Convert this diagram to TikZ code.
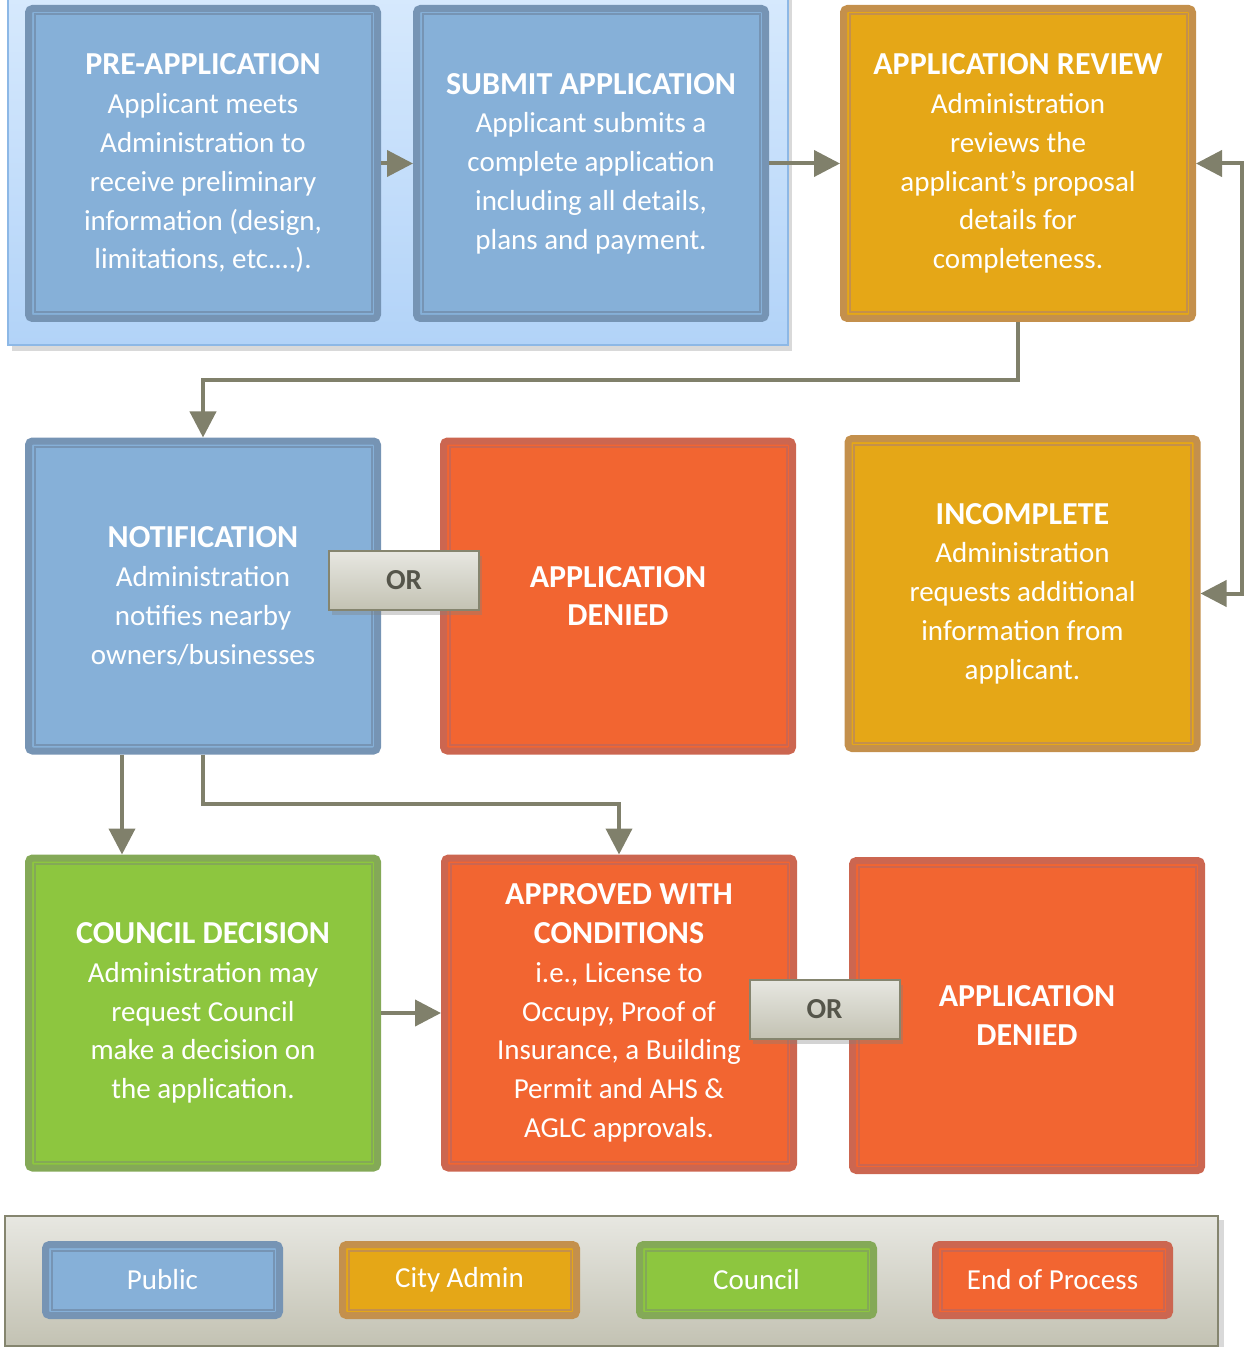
\documentclass[tikz,border=0pt]{standalone}
\usepackage{fontspec}
\setmainfont{Carlito}
\usetikzlibrary{arrows.meta, shadows}
\definecolor{pubfill}{HTML}{86B0D8}
\definecolor{publine}{HTML}{7694B4}
\definecolor{admfill}{HTML}{E5A717}
\definecolor{admline}{HTML}{C4904C}
\definecolor{endfill}{HTML}{F26531}
\definecolor{endline}{HTML}{CC6650}
\definecolor{cncfill}{HTML}{8DC63F}
\definecolor{cncline}{HTML}{84A957}
\definecolor{arrowgray}{HTML}{80806B}
\definecolor{ortext}{HTML}{55554A}
\definecolor{grayline}{HTML}{85856F}
\definecolor{grayhi}{HTML}{E7E7E1}
\definecolor{graylo}{HTML}{C3C2B3}
\definecolor{panelhi}{HTML}{D8EAFD}
\definecolor{panello}{HTML}{B2D3F8}
\definecolor{panelline}{HTML}{8DB8E6}
\newcommand{\hd}[1]{{\fontsize{16}{19.4}\selectfont\bfseries #1}}

\begin{document}
\begin{tikzpicture}[x=0.5pt, y=-0.5pt,
  stage/.style 2 args={rectangle, rounded corners=2pt, fill=#1, draw=#2, line width=3.5pt,
    minimum width=174.5pt, minimum height=155pt, inner sep=2pt, align=center, text=white,
    font=\fontsize{14.5}{19.4}\selectfont,
    path picture={\draw[#2, line width=1pt, sharp corners]
      ([shift={(3pt,3pt)}]path picture bounding box.south west) rectangle
      ([shift={(-3pt,-3pt)}]path picture bounding box.north east);}},
  key/.style 2 args={stage={#1}{#2}, minimum width=117pt, minimum height=35.5pt},
  orbox/.style={rectangle, draw=grayline, line width=1pt, top color=grayhi, bottom color=graylo,
    minimum width=75pt, minimum height=29.5pt, text=ortext,
    font=\fontsize{14.5}{16}\selectfont\bfseries,
    drop shadow={opacity=0.35, shadow xshift=1.5pt, shadow yshift=-2.5pt}},
  arrow/.style={-{Triangle[length=13pt, width=13pt]}, line width=2pt, arrowgray},
  twoway/.style={{Triangle[length=13pt, width=13pt]}-{Triangle[length=13pt, width=13pt]}, line width=2pt, arrowgray}
]
\useasboundingbox (0,0) rectangle (1244,1347);
\clip (0,0) rectangle (1244,1347);

\path[top color=panelhi, bottom color=panello, draw=panelline, line width=1pt,
  drop shadow={opacity=0.3, shadow xshift=2pt, shadow yshift=-3pt}] (8,-20) rectangle (788,345);
\path[top color=grayhi, bottom color=graylo, draw=grayline, line width=1pt,
  drop shadow={opacity=0.3, shadow xshift=3pt, shadow yshift=-2pt}] (5,1216) rectangle (1218,1346);

\node[stage={pubfill}{publine}] (pre) at (203,163.5)
  {\hd{PRE-APPLICATION}\\Applicant meets\\Administration to\\receive preliminary\\information (design,\\limitations, etc.\dots).};
\node[stage={pubfill}{publine}] (submit) at (591,163.5)
  {\hd{SUBMIT APPLICATION}\\Applicant submits a\\complete application\\including all details,\\plans and payment.};
\node[stage={admfill}{admline}] (review) at (1018,163.5)
  {\hd{APPLICATION REVIEW}\\Administration\\reviews the\\applicant’s proposal\\details for\\completeness.};
\node[stage={pubfill}{publine}] (notif) at (203,596)
  {\hd{NOTIFICATION}\\Administration\\notifies nearby\\owners/businesses};
\node[stage={endfill}{endline}] (denied) at (618,596)
  {\hd{APPLICATION}\\\hd{DENIED}};
\node[stage={admfill}{admline}] (incomplete) at (1022.5,593.5)
  {\hd{INCOMPLETE}\\Administration\\requests additional\\information from\\applicant.};
\node[stage={cncfill}{cncline}] (council) at (203,1013)
  {\hd{COUNCIL DECISION}\\Administration may\\request Council\\make a decision on\\the application.};
\node[stage={endfill}{endline}] (approved) at (619,1013)
  {\hd{APPROVED WITH}\\\hd{CONDITIONS}\\i.e., License to\\Occupy, Proof of\\Insurance, a Building\\Permit and AHS \&\\AGLC approvals.};
\node[stage={endfill}{endline}] (denied2) at (1027,1015.5)
  {\hd{APPLICATION}\\\hd{DENIED}};

\node[orbox] (or) at (404,580.5) {OR};
\node[orbox] (or2) at (824.5,1009) {OR};

\coordinate (loop) at (1242,163.5);
\draw[arrow] (pre) -- (submit);
\draw[arrow] (submit) -- (review);
\draw[arrow] (review.south) -- ++(0,58) -| (notif.north);
\draw[twoway] (review.east) -- (loop) |- (incomplete.east);
\draw[arrow] ([xshift=-40.5pt]notif.south) -- ([xshift=-40.5pt]council.north);
\draw[arrow] (notif.south) -- ++(0,49) -| (approved.north);
\draw[arrow] (council) -- (approved);

\node[key={pubfill}{publine}] (kpub) at (162.5,1280) {Public};
\node[key={admfill}{admline}] (kadm) at (459.5,1280) {City Admin};
\node[key={cncfill}{cncline}] (kcnc) at (756.5,1280) {Council};
\node[key={endfill}{endline}] (kend) at (1052.5,1280) {End of Process};
\end{tikzpicture}
\end{document}
